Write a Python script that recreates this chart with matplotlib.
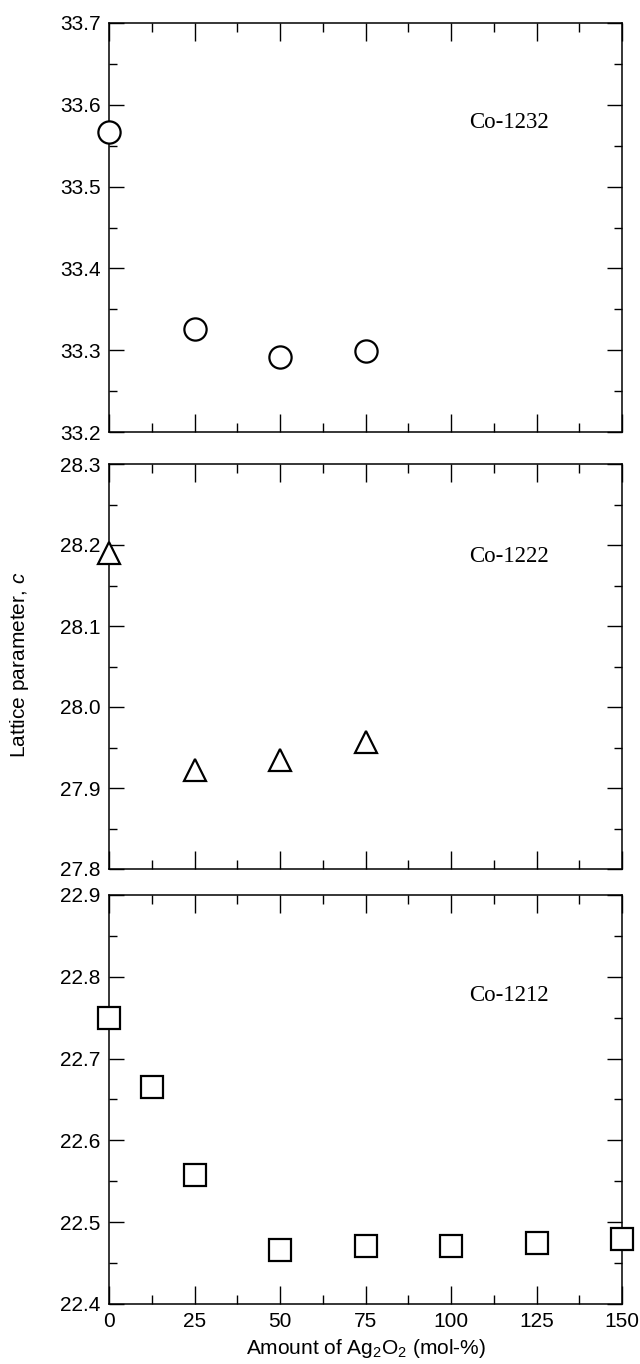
import numpy as np
import matplotlib.pyplot as plt
from matplotlib.ticker import MultipleLocator

plt.rcParams['font.family'] = ['Liberation Sans', 'DejaVu Sans']
plt.rcParams['mathtext.fontset'] = 'custom'
plt.rcParams['mathtext.rm'] = 'Liberation Sans'
plt.rcParams['mathtext.it'] = 'Liberation Sans:italic'

# Co-1232 (circles)
x_1232 = [0, 25, 50, 75]
c_1232 = [33.567, 33.326, 33.292, 33.299]

# Co-1222 (triangles)
x_1222 = [0, 25, 50, 75]
c_1222 = [28.19, 27.922, 27.935, 27.957]

# Co-1212 (squares)
x_1212 = [0, 12.5, 25, 50, 75, 100, 125, 150]
c_1212 = [22.750, 22.665, 22.558, 22.466, 22.471, 22.471, 22.475, 22.480]

panels = [
    ('Co-1232', x_1232, c_1232, 'o', (33.2, 33.7), 33.578),
    ('Co-1222', x_1222, c_1222, '^', (27.8, 28.3), 28.186),
    ('Co-1212', x_1212, c_1212, 's', (22.4, 22.9), 22.777),
]

W, H = 640, 1364
fig = plt.figure(figsize=(W / 100, H / 100), dpi=100)

left, right = 109, 622
tops = [23, 464, 895]
bottoms = [432, 869, 1304]

for i, (name, xs, ys, mk, ylim, ty) in enumerate(panels):
    ax = fig.add_axes([left / W, 1 - bottoms[i] / H,
                       (right - left) / W, (bottoms[i] - tops[i]) / H])
    ax.plot(xs, ys, linestyle='none', marker=mk, ms=16, mfc='white',
            mec='black', mew=1.6, clip_on=False, zorder=5)
    ax.set_xlim(0, 150)
    ax.set_ylim(*ylim)
    ax.xaxis.set_major_locator(MultipleLocator(25))
    ax.xaxis.set_minor_locator(MultipleLocator(12.5))
    ax.yaxis.set_major_locator(MultipleLocator(0.1))
    ax.yaxis.set_minor_locator(MultipleLocator(0.05))
    ax.yaxis.set_major_formatter(plt.FormatStrFormatter('%.1f'))
    ax.tick_params(axis='both', which='both', direction='in',
                   top=True, right=True, width=1.0, labelsize=15, pad=6)
    ax.tick_params(axis='x', which='major', length=13)
    ax.tick_params(axis='x', which='minor', length=6.5)
    ax.tick_params(axis='y', which='major', length=11)
    ax.tick_params(axis='y', which='minor', length=5.5)
    for s in ax.spines.values():
        s.set_linewidth(1.1)
    if i < 2:
        ax.tick_params(axis='x', labelbottom=False)
    else:
        ax.set_xlabel('Amount of Ag$_2$O$_2$ (mol-%)', fontsize=15, labelpad=4)
    ax.text(117, ty, name, fontsize=16.5, family='Liberation Serif',
            ha='center', va='center')

fig.text(20 / W, 1 - 665 / H, 'Lattice parameter, $c$', rotation=90,
         fontsize=15, ha='center', va='center')

fig.savefig('out.png', dpi=100)
